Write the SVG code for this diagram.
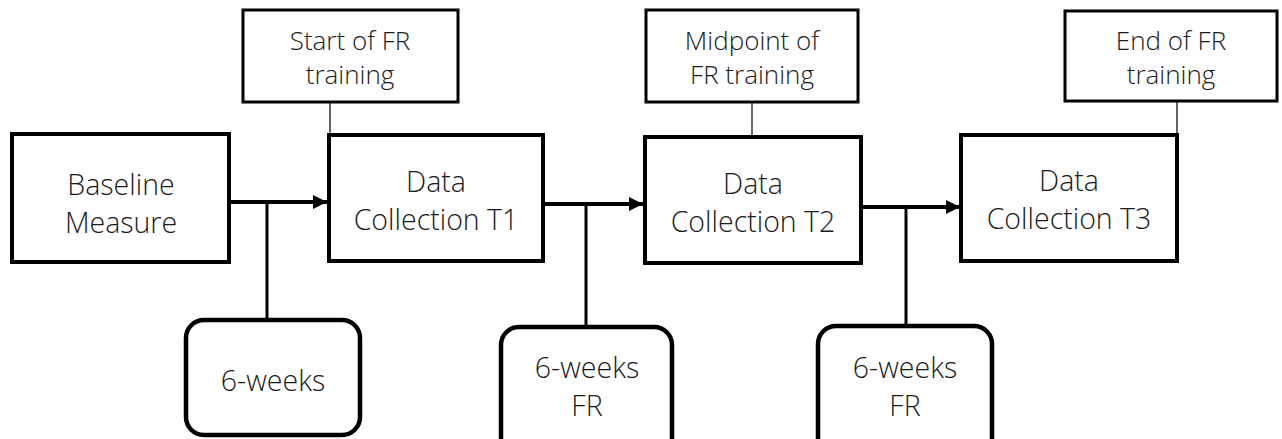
<svg xmlns="http://www.w3.org/2000/svg" width="1282" height="439" viewBox="0 0 1282 439">
  <style>
    .box { fill: #ffffff; stroke: #000000; stroke-width: 4; }
    .note { fill: #ffffff; stroke: #000000; stroke-width: 3; }
    .period { fill: #ffffff; stroke: #000000; stroke-width: 4.5; }
    .flow { fill: none; stroke: #000000; stroke-width: 4; }
    .drop { fill: none; stroke: #000000; stroke-width: 3; }
    .tie { fill: none; stroke: #000000; stroke-width: 1.2; }
    text { font-family: "Open Sans", "Liberation Sans", sans-serif; font-weight: 300; fill: #1a1a1a; text-anchor: middle; }
    .big { font-size: 28.5px; }
    .small { font-size: 26px; }
  </style>
  <defs>
    <marker id="head" viewBox="0 0 14 14" refX="14" refY="7" markerWidth="14" markerHeight="14" markerUnits="userSpaceOnUse" orient="auto">
      <path d="M0,0 L14,7 L0,14 Z" fill="#000000"/>
    </marker>
  </defs>

  <!-- connectors -->
  <g id="connectors">
    <line class="flow" x1="229" y1="202" x2="327" y2="202" marker-end="url(#head)"/>
    <line class="flow" x1="543" y1="204" x2="643" y2="204" marker-end="url(#head)"/>
    <line class="flow" x1="861" y1="207" x2="960" y2="207" marker-end="url(#head)"/>
    <line class="drop" x1="267" y1="202" x2="267" y2="320"/>
    <line class="drop" x1="586" y1="204" x2="586" y2="327"/>
    <line class="drop" x1="906" y1="207" x2="906" y2="326"/>
    <line class="tie" x1="330" y1="102" x2="330" y2="135"/>
    <line class="tie" x1="752" y1="102" x2="752" y2="137"/>
    <line class="tie" x1="1177" y1="101" x2="1177" y2="135"/>
  </g>

  <!-- main stages -->
  <g id="baseline">
    <rect class="box" x="12" y="134" width="217" height="128"/>
    <text class="big" x="121" y="195">Baseline</text>
    <text class="big" x="121" y="233">Measure</text>
  </g>
  <g id="t1">
    <rect class="box" x="329" y="135" width="214" height="126"/>
    <text class="big" x="436" y="192">Data</text>
    <text class="big" x="436" y="230">Collection T1</text>
  </g>
  <g id="t2">
    <rect class="box" x="645" y="137" width="216" height="126"/>
    <text class="big" x="753" y="194">Data</text>
    <text class="big" x="753" y="232">Collection T2</text>
  </g>
  <g id="t3">
    <rect class="box" x="961" y="135" width="216" height="126"/>
    <text class="big" x="1069" y="191">Data</text>
    <text class="big" x="1069" y="229">Collection T3</text>
  </g>

  <!-- training milestones -->
  <g id="start-fr">
    <rect class="note" x="243" y="10" width="215" height="92"/>
    <text class="small" x="350" y="50">Start of FR</text>
    <text class="small" x="350" y="84">training</text>
  </g>
  <g id="mid-fr">
    <rect class="note" x="646" y="10" width="212" height="92"/>
    <text class="small" x="752" y="50">Midpoint of</text>
    <text class="small" x="752" y="84">FR training</text>
  </g>
  <g id="end-fr">
    <rect class="note" x="1065" y="11" width="212" height="90"/>
    <text class="small" x="1171" y="50">End of FR</text>
    <text class="small" x="1171" y="84">training</text>
  </g>

  <!-- intervals -->
  <g id="six-weeks">
    <rect class="period" x="186" y="320" width="174" height="115" rx="18"/>
    <text class="big" x="273" y="391">6-weeks</text>
  </g>
  <g id="six-weeks-fr-1">
    <rect class="period" x="501" y="327" width="171" height="130" rx="18"/>
    <text class="big" x="587" y="378">6-weeks</text>
    <text class="big" x="587" y="416">FR</text>
  </g>
  <g id="six-weeks-fr-2">
    <rect class="period" x="818" y="326" width="174" height="130" rx="18"/>
    <text class="big" x="905" y="378">6-weeks</text>
    <text class="big" x="905" y="416">FR</text>
  </g>
</svg>
